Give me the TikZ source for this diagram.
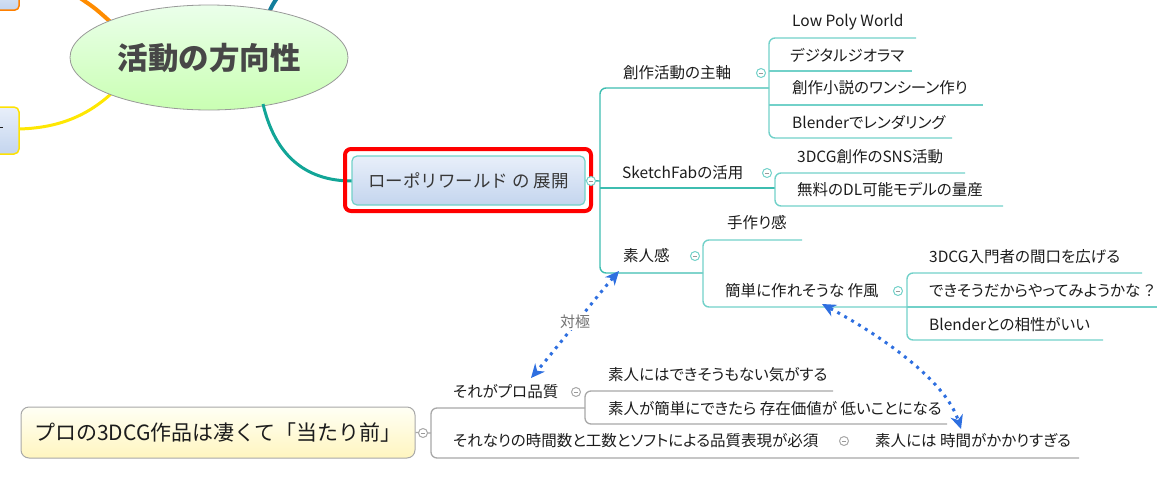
\documentclass[tikz,border=0pt]{standalone}
\usepackage{fontspec}
\setmainfont{Noto Sans CJK JP}
\newfontfamily\pjp[RawFeature=+palt]{Noto Sans CJK JP}
\usetikzlibrary{arrows.meta,shapes.geometric}
\definecolor{tealA}{HTML}{3DBDB0}
\definecolor{tealB}{HTML}{72D1C9}
\definecolor{tealC}{HTML}{12A597}
\definecolor{lgray}{HTML}{A8A8A8}
\definecolor{abl}{HTML}{2E6FE0}
\definecolor{txt}{HTML}{1C1C1C}
\definecolor{boxtop}{HTML}{E8EFFA}
\definecolor{boxbot}{HTML}{C4D5EE}
\tikzset{
  lbl/.style={anchor=west, inner sep=0pt, font=\pjp\fontsize{15.5}{18}\selectfont, text=txt},
  barA/.style={draw=tealA, line width=1.4pt, rounded corners=6pt},
  barB/.style={draw=tealB, line width=1.4pt, rounded corners=6pt},
  barG/.style={draw=lgray, line width=1.3pt, rounded corners=6pt},
  colT/.style={circle, draw=tealB, fill=white, line width=1pt, minimum size=9pt, inner sep=0pt,
    path picture={\draw[gray!80, line width=1pt] ([xshift=-2.2pt]path picture bounding box.center) -- ([xshift=2.2pt]path picture bounding box.center);}},
  colG/.style={circle, draw=lgray, fill=white, line width=1pt, minimum size=9pt, inner sep=0pt,
    path picture={\draw[gray!80, line width=1pt] ([xshift=-2.2pt]path picture bounding box.center) -- ([xshift=2.2pt]path picture bounding box.center);}},
  dotarrow/.style={draw=abl, line width=3pt, dash pattern=on 3pt off 5pt,
    {Stealth[length=14pt,width=13pt,fill=abl,line width=0pt]}-{Stealth[length=14pt,width=13pt,fill=abl,line width=0pt]}}
}
\begin{document}
\begin{tikzpicture}[x=1pt,y=-1pt]
\useasboundingbox (0,0) rectangle (1173,477);
% left partial boxes
\shade[top color=boxtop, bottom color=boxbot, draw=orange, line width=1.5pt, rounded corners=4pt] (-20,-20) rectangle (19,10);
\shade[top color=boxtop, bottom color=boxbot, draw=yellow!85!orange, line width=1.5pt, rounded corners=5pt] (-20,107) rectangle (19,154);
\draw[txt, line width=1pt] (-1,127) -- (3,127);
% curves from central ellipse
\coordinate (oA) at (80,-2);
\coordinate (yA) at (19,129);
\coordinate (bA) at (277,-2);
\draw[orange!90!yellow, line width=4pt] (oA) .. controls (95,8) .. (115,26);
\draw[yellow!90!orange, line width=3pt] (112,93) .. controls (85,118) and (55,128) .. (yA);
\draw[draw={rgb,255:red,19;green,126;blue,156}, line width=4pt] (bA) .. controls (273,4) .. (268,14);
% central ellipse
\node[ellipse, minimum width=278pt, minimum height=105pt, top color=green!8, bottom color=green!60!lime!30, draw=gray!80, line width=0.8pt, inner sep=0pt]
  (main) at (209,57.5) {};
\node[font=\fontsize{30.5}{33}\selectfont\bfseries, text=black!72] at (main.center) {活動の方向性};
% branch to main node
\draw[tealC, line width=3pt] (263,104) .. controls (275,155) and (305,181) .. (352,181);
% red highlight and node
\draw[red, line width=4pt, rounded corners=6pt] (345,149) rectangle (591,211);
\node[rectangle, rounded corners=5pt, minimum width=233pt, minimum height=49pt, top color=boxtop, bottom color=boxbot, draw=tealB, line width=1.2pt,
  font=\fontsize{17.5}{20}\selectfont, text=black!78, inner sep=0pt] (lp) at (468.5,180.5) {ローポリワールド の 展開};
% upper tree
\coordinate (j0) at (600,181);
\draw[barA] (769,88) -- (600,88) -- (600,273) -- (703,273);
\draw[barA] (600,188) -- (775,188);
\draw[tealA, line width=1.4pt] (lp.east) -- (j0);
\node[colT] (c0) at (591,181) {};
% 創作活動の主軸
\node[lbl] (n1) at (623,73) {創作活動の主軸};
\node[colT] (c1) at (761,73) {};
\draw[barB] (916,38) -- (769,38) -- (769,138) -- (952,138);
\draw[barB] (769,71) -- (912,71);
\draw[barB] (769,105) -- (983,105);
\node[lbl] (n11) at (792,22) {Low Poly World};
\node[lbl] (n12) at (790,55) {デジタルジオラマ};
\node[lbl] (n13) at (792,88) {創作小説のワンシーン作り};
\node[lbl] (n14) at (792,122) {Blenderでレンダリング};
% SketchFab
\node[lbl] (n2) at (622,173) {SketchFabの活用};
\node[colT] (c2) at (767,173) {};
\draw[barB] (965,173) -- (775,173) -- (775,206) -- (1003,206);
\node[lbl] (n21) at (797,157) {3DCG創作のSNS活動};
\node[lbl] (n22) at (797,190) {無料のDL可能モデルの量産};
% 素人感
\node[lbl] (n3) at (623,256) {素人感};
\node[colT] (c3) at (695,256) {};
\draw[barB] (802,240) -- (703,240) -- (703,307) -- (907,307);
\node[lbl] (n31) at (727,223) {手作り感};
\node[lbl] (n32) at (725,291) {簡単に作れそうな 作風};
\node[colT] (c32) at (898,291) {};
\draw[barB] (1142,273) -- (907,273) -- (907,340) -- (1103,340);
\draw[barB] (907,307) -- (1157,307);
\node[lbl] (n321) at (929,257) {3DCG入門者の間口を広げる};
\node[lbl] (n322) at (929,291) {できそうだからやってみようかな ？};
\node[lbl] (n323) at (929,325) {Blenderとの相性がいい};
% bottom tree
\node[rectangle, rounded corners=8pt, minimum width=394pt, minimum height=51pt, top color=yellow!4, bottom color=yellow!70!orange!25, draw=lgray, line width=1pt,
  font=\fontsize{21}{24}\selectfont, text=txt, inner sep=0pt] (pro) at (218,432.5) {プロの3DCG作品は凄くて「当たり前」};
\coordinate (j1) at (431,433);
\draw[barG] (585,408) -- (431,408) -- (431,458) -- (1079,458);
\draw[lgray, line width=1.3pt] (pro.east) -- (j1);
\node[colG] (cp) at (423,433) {};
\node[lbl] (b1) at (453,392) {それがプロ品質};
\node[colG] (cb1) at (576,392) {};
\draw[barG] (833,391) -- (585,391) -- (585,424) -- (947,424);
\node[lbl] (b11) at (608,375) {素人にはできそうもない気がする};
\node[lbl] (b12) at (608,409) {素人が簡単にできたら 存在価値が 低いことになる};
\node[lbl] (b2) at (453,441) {それなりの時間数と工数とソフトによる品質表現が必須};
\node[colG] (cb2) at (844,441) {};
\node[lbl] (b21) at (875,441) {素人には 時間がかかりすぎる};
% relationship arrows
\coordinate (r1a) at (619,271);
\coordinate (r1b) at (531,378);
\coordinate (r2a) at (822,304);
\coordinate (r2b) at (961,429);
\draw[dotarrow] (r1a) .. controls (597,296) and (555,350) .. (r1b);
\node[fill=white, inner sep=1pt, font=\pjp\fontsize{15}{18}\selectfont, text=black!55] (lab) at (575,322) {対極};
\draw[dotarrow] (r2a) .. controls (880,335) and (945,380) .. (r2b);
\end{tikzpicture}
\end{document}
